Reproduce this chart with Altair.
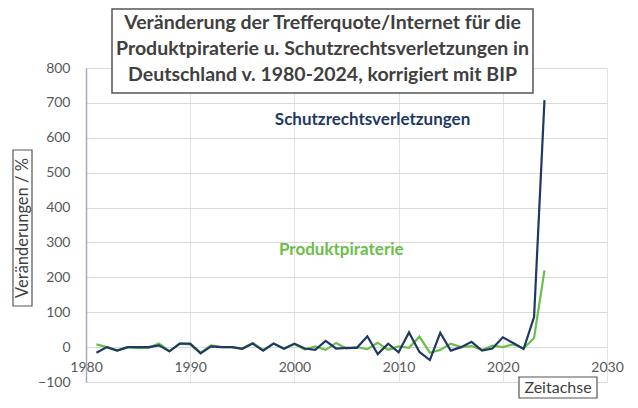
import altair as alt
import pandas as pd

years = list(range(1981, 2025))
schutz = [-16, 0, -10, 0, 0, 0, 5, -12, 10, 10,
          -18, 2, 0, 0, -5, 10, -10, 10, -5, 10,
          -4, -8, 18, -4, -2, -2, 31, -20, 10, -15,
          42, -14, -37, 41, -10, 0, 15, -10, -4, 28,
          12, -5, 86, 708]
produkt = [8, 0, -10, 0, -3, -2, 10, -12, 10, 8,
           -16, 5, 0, 0, -4, 12, -8, 10, -4, 8,
           -7, 2, -8, 12, -4, 0, -6, 12, -8, 2,
           -2, 30, -16, -8, 10, 0, 3, -8, 4, 0,
           8, -4, 26, 220]

series_names = ["Produktpiraterie", "Schutzrechtsverletzungen"]
series_colors = ["#6BBE4A", "#1F3864"]
label_colors = ["#5FB33E", "#1F5FA0"]
label_pos_x = [2004.5, 2007.5]
label_pos_y = [278, 651]
x_ticks = [1980, 1990, 2000, 2010, 2020, 2030]
y_ticks = [-100, 0, 100, 200, 300, 400, 500, 600, 700, 800]

title_lines = ["Veränderung der Trefferquote/Internet für die",
               "Produktpiraterie u. Schutzrechtsverletzungen in",
               "Deutschland v. 1980-2024, korrigiert mit BIP"]
y_title = "Veränderungen / %"
x_title = "Zeitachse"

df = pd.DataFrame({
    "Jahr": years * 2,
    "Wert": produkt + schutz,
    "Serie": [series_names[0]] * len(years) + [series_names[1]] * len(years),
})
lab = pd.DataFrame({"Serie": series_names, "x": label_pos_x, "y": label_pos_y})

FONT = "Lato"
xs = alt.Scale(domain=[1980, 2030], nice=False)
ys = alt.Scale(domain=[-100, 800], nice=False)
xaxis = alt.Axis(values=x_ticks, format="d", title=None, labelFlush=False,
                 offset=-35, domain=False, ticks=False, labelPadding=13, labelOverlap=False,
                 grid=True, gridColor="#E3E3E3", labelFont=FONT, labelFontSize=14,
                 labelColor="#595959")
yaxis = alt.Axis(values=y_ticks, format="d", title=None, ticks=False, labelOverlap=False,
                 labelFlush=False,
                 labelPadding=16, grid=True, gridColor="#DADADA", domainColor="#A3ABBD",
                 domainWidth=1.5, labelFont=FONT, labelFontSize=14, labelColor="#595959")

lines = alt.Chart(df).mark_line(strokeWidth=2.2).encode(
    x=alt.X("Jahr:Q", scale=xs, axis=xaxis),
    y=alt.Y("Wert:Q", scale=ys, axis=yaxis),
    color=alt.Color("Serie:N", scale=alt.Scale(domain=series_names, range=series_colors), legend=None),
    order=alt.Order("Jahr:Q"),
)

labels = alt.Chart(lab).mark_text(fontWeight="bold", fontSize=17, font=FONT).encode(
    x=alt.X("x:Q", scale=xs, axis=xaxis), y=alt.Y("y:Q", scale=ys, axis=yaxis), text="Serie:N",
    color=alt.Color("Serie:N", scale=alt.Scale(domain=series_names, range=label_colors), legend=None),
)

one = pd.DataFrame({"k": [0]})
title_box = alt.Chart(one).mark_rect(fill="white", stroke="#555555", strokeWidth=1.5).encode(
    x=alt.value(26), x2=alt.value(447), y=alt.value(-59), y2=alt.value(25))
title_text = alt.Chart(one).mark_text(fontWeight="bold", fontSize=19.5, font=FONT,
                                      color="#404040", lineHeight=26, baseline="middle").encode(
    x=alt.value(236.5), y=alt.value(-45), text=alt.value(title_lines))

ybox = alt.Chart(one).mark_rect(fill="white", stroke="#555555", strokeWidth=1.2).encode(
    x=alt.value(-73), x2=alt.value(-54), y=alt.value(82), y2=alt.value(238))
ytext = alt.Chart(one).mark_text(fontSize=16.5, font=FONT, color="#404040", angle=270,
                                 baseline="middle").encode(
    x=alt.value(-63.5), y=alt.value(160), text=alt.value(y_title))

xbox = alt.Chart(one).mark_rect(fill="white", stroke="#555555", strokeWidth=1.2).encode(
    x=alt.value(433), x2=alt.value(511), y=alt.value(309), y2=alt.value(330))
xtext = alt.Chart(one).mark_text(fontSize=16, font=FONT, color="#404040",
                                 baseline="middle").encode(
    x=alt.value(472), y=alt.value(319.5), text=alt.value(x_title))

chart = alt.layer(lines, labels, title_box, title_text, ybox, ytext, xbox, xtext).properties(
    width=521, height=314,
    autosize=alt.AutoSizeParams(type="none"),
    padding={"left": 78, "top": 60, "right": 23, "bottom": 18},
).configure_view(stroke=None).configure(background="white")

chart.save("out.html", embed_options={"renderer": "svg", "actions": False})
